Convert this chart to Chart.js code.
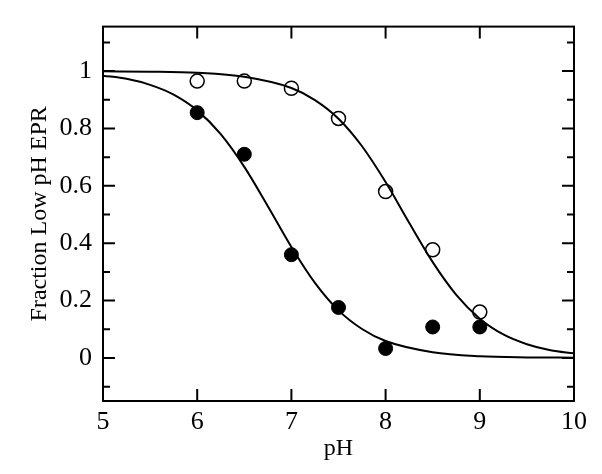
<!DOCTYPE html>
<html>
<head>
<meta charset="utf-8">
<script src="https://cdn.jsdelivr.net/npm/chart.js@4"></script>
<style>
  html, body { margin: 0; padding: 0; background: #fff; }
  #wrap { width: 602px; height: 474px; }
</style>
</head>
<body>
<div id="wrap"><canvas id="phChart" width="602" height="474"></canvas></div>
<script>
// measured points (pH vs fraction low pH EPR)
const phPoints = [6, 6.5, 7, 7.5, 8, 8.5, 9];
const openValues = [0.965, 0.965, 0.94, 0.835, 0.58, 0.377, 0.16];
const filledValues = [0.855, 0.71, 0.36, 0.176, 0.033, 0.108, 0.108];

// fitted curves
const openCurvePh = [5, 5.5, 6, 6.5, 7, 7.25, 7.5, 7.75, 8, 8.25, 8.5, 8.75, 9, 9.25, 9.5, 9.75, 10];
const openCurveValues = [0.999, 0.998, 0.994, 0.98, 0.941, 0.899, 0.834, 0.738, 0.613, 0.471, 0.334, 0.22, 0.137, 0.082, 0.048, 0.027, 0.016];
const filledCurvePh = [5, 5.25, 5.5, 5.75, 6, 6.25, 6.5, 6.75, 7, 7.25, 7.5, 7.75, 8, 8.5, 9, 9.5, 10];
const filledCurveValues = [0.984, 0.973, 0.952, 0.918, 0.863, 0.78, 0.666, 0.529, 0.387, 0.262, 0.166, 0.101, 0.059, 0.02, 0.006, 0.002, 0.001];

// axis ticks
const xTicks = [5, 6, 7, 8, 9, 10];
const yTicks = [0, 0.2, 0.4, 0.6, 0.8, 1];
const yMinorTicks = [-0.1, 0.1, 0.3, 0.5, 0.7, 0.9, 1.1];
const xInnerTicks = [6, 7, 8, 9];

const toXY = (xs, ys) => xs.map((x, i) => ({ x: x, y: ys[i] }));

// frame + inward ticks on all four sides
const frameTicks = {
    id: 'frameTicks',
    afterDraw(chart) {
        const { ctx, chartArea: a, scales } = chart;
        const xs = scales.x, ys = scales.y;
        ctx.save();
        ctx.strokeStyle = '#000';
        ctx.lineWidth = 2;
        ctx.strokeRect(a.left, a.top, a.right - a.left, a.bottom - a.top);
        ctx.beginPath();
        xInnerTicks.forEach(v => {
            const px = xs.getPixelForValue(v);
            ctx.moveTo(px, a.bottom); ctx.lineTo(px, a.bottom - 12);
            ctx.moveTo(px, a.top); ctx.lineTo(px, a.top + 12);
        });
        yTicks.forEach(v => {
            const py = ys.getPixelForValue(v);
            ctx.moveTo(a.left, py); ctx.lineTo(a.left + 12, py);
            ctx.moveTo(a.right, py); ctx.lineTo(a.right - 12, py);
        });
        yMinorTicks.forEach(v => {
            const py = ys.getPixelForValue(v);
            ctx.moveTo(a.left, py); ctx.lineTo(a.left + 7, py);
            ctx.moveTo(a.right, py); ctx.lineTo(a.right - 7, py);
        });
        ctx.stroke();
        ctx.restore();
    }
};

const font = 'Liberation Serif';

new Chart(document.getElementById('phChart').getContext('2d'), {
    type: 'scatter',
    data: {
        datasets: [
            {
                label: 'open fit',
                data: toXY(openCurvePh, openCurveValues),
                showLine: true,
                borderColor: '#000',
                borderWidth: 2,
                pointRadius: 0,
                cubicInterpolationMode: 'monotone'
            },
            {
                label: 'filled fit',
                data: toXY(filledCurvePh, filledCurveValues),
                showLine: true,
                borderColor: '#000',
                borderWidth: 2,
                pointRadius: 0,
                cubicInterpolationMode: 'monotone'
            },
            {
                label: 'open',
                data: toXY(phPoints, openValues),
                pointRadius: 7,
                pointBackgroundColor: '#fff',
                pointBorderColor: '#000',
                pointBorderWidth: 1.5
            },
            {
                label: 'filled',
                data: toXY(phPoints, filledValues),
                pointRadius: 7,
                pointBackgroundColor: '#000',
                pointBorderColor: '#000',
                pointBorderWidth: 1
            }
        ]
    },
    options: {
        responsive: false,
        animation: false,
        layout: { padding: { left: 0, top: 22, right: 28, bottom: 0 } },
        plugins: {
            legend: { display: false },
            tooltip: { enabled: false }
        },
        scales: {
            x: {
                type: 'linear',
                min: 5,
                max: 10,
                grid: { display: false, drawTicks: false },
                border: { display: false },
                afterBuildTicks: s => { s.ticks = xTicks.map(v => ({ value: v })); },
                afterFit: s => { s.height = 73; },
                ticks: {
                    padding: 6,
                    color: '#000',
                    font: { family: font, size: 26 },
                    callback: v => String(v)
                },
                title: {
                    display: true,
                    text: 'pH',
                    color: '#000',
                    font: { family: font, size: 24 },
                    padding: { top: 0, bottom: 11 }
                }
            },
            y: {
                type: 'linear',
                min: -0.15,
                max: 1.155,
                grid: { display: false, drawTicks: false },
                border: { display: false },
                afterBuildTicks: s => { s.ticks = yTicks.map(v => ({ value: v })); },
                afterFit: s => { s.width = 103; },
                ticks: {
                    padding: 11,
                    color: '#000',
                    font: { family: font, size: 26 },
                    callback: v => String(v)
                },
                title: {
                    display: true,
                    text: 'Fraction Low pH EPR',
                    color: '#000',
                    font: { family: font, size: 24 },
                    padding: { top: 25, bottom: 0 }
                }
            }
        }
    },
    plugins: [frameTicks]
});
</script>
</body>
</html>
